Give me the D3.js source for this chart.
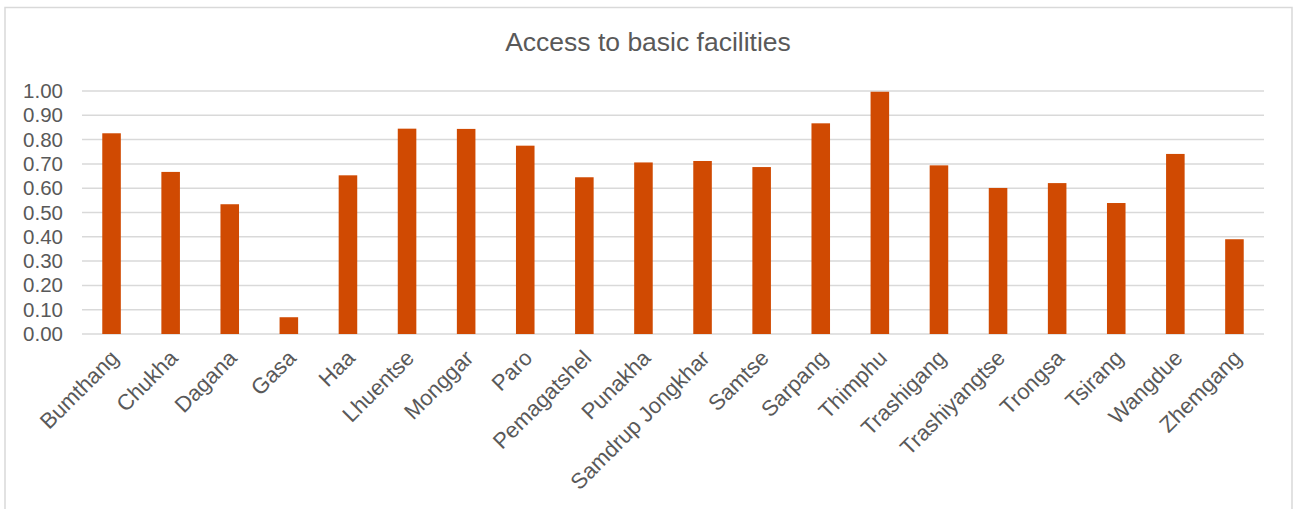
<!DOCTYPE html>
<html>
<head>
<meta charset="utf-8">
<script src="https://cdn.jsdelivr.net/npm/d3@7"></script>
<style>
  html, body { margin: 0; padding: 0; background: #fff; }
  svg { display: block; }
  text { font-family: "Liberation Sans", Arial, sans-serif; fill: #595959; }
</style>
</head>
<body>
<svg id="chart" width="1293" height="509"></svg>
<script>
const title = "Access to basic facilities";
const categories = ["Bumthang", "Chukha", "Dagana", "Gasa", "Haa", "Lhuentse", "Monggar", "Paro",
  "Pemagatshel", "Punakha", "Samdrup Jongkhar", "Samtse", "Sarpang", "Thimphu", "Trashigang",
  "Trashiyangtse", "Trongsa", "Tsirang", "Wangdue", "Zhemgang"];
const values = [0.826, 0.667, 0.534, 0.069, 0.653, 0.845, 0.844, 0.775,
  0.645, 0.706, 0.712, 0.687, 0.867, 0.997, 0.694,
  0.601, 0.621, 0.539, 0.741, 0.390];
const yTicks = [0, 0.1, 0.2, 0.3, 0.4, 0.5, 0.6, 0.7, 0.8, 0.9, 1.0];

const svg = d3.select("#chart");
const plotLeft = 82, plotRight = 1264, plotTop = 91, plotBottom = 334;
const FONT = "'Liberation Sans', Arial, sans-serif";

// chart border
svg.append("rect")
  .attr("x", 5).attr("y", 7.5)
  .attr("width", 1287).attr("height", 520)
  .attr("fill", "#fff")
  .attr("stroke", "#d9d9d9")
  .attr("stroke-width", 1.5);

const x = d3.scaleBand().domain(categories).range([plotLeft, plotRight]).paddingInner(0.686).paddingOuter(0.343);
const y = d3.scaleLinear().domain([0, 1]).range([plotBottom, plotTop]);

// title
svg.append("text")
  .attr("x", 648).attr("y", 51)
  .attr("text-anchor", "middle")
  .style("font-size", "26.5px")
  .style("font-family", FONT)
  .text(title);

// gridlines
svg.append("g").selectAll("line").data(yTicks).join("line")
  .attr("x1", plotLeft).attr("x2", plotRight)
  .attr("y1", d => y(d)).attr("y2", d => y(d))
  .attr("stroke", "#d9d9d9").attr("stroke-width", 1.5);

// y axis
const yAxis = d3.axisLeft(y).tickValues(yTicks).tickFormat(d3.format(".2f")).tickSize(0).tickPadding(19);
const gy = svg.append("g").attr("transform", `translate(${plotLeft},0)`).call(yAxis);
gy.select(".domain").remove();
gy.selectAll("text").style("font-size", "20.5px").style("font-family", FONT).attr("fill", "#595959");

// bars
svg.append("g").selectAll("rect").data(values).join("rect")
  .attr("x", (d, i) => x(categories[i]))
  .attr("width", x.bandwidth())
  .attr("y", d => y(d))
  .attr("height", d => y(0) - y(d))
  .attr("fill", "#D04A02");

// x axis labels
const xAxis = d3.axisBottom(x).tickSize(0).tickPadding(0);
const gx = svg.append("g").attr("transform", `translate(0,${plotBottom})`).call(xAxis);
gx.select(".domain").remove();
gx.selectAll("text")
  .style("font-size", "22px")
  .style("font-family", FONT)
  .attr("fill", "#595959")
  .attr("text-anchor", "end")
  .attr("dy", "0.35em").attr("y", null)
  .attr("transform", "translate(3,20) rotate(-45)");
</script>
</body>
</html>
